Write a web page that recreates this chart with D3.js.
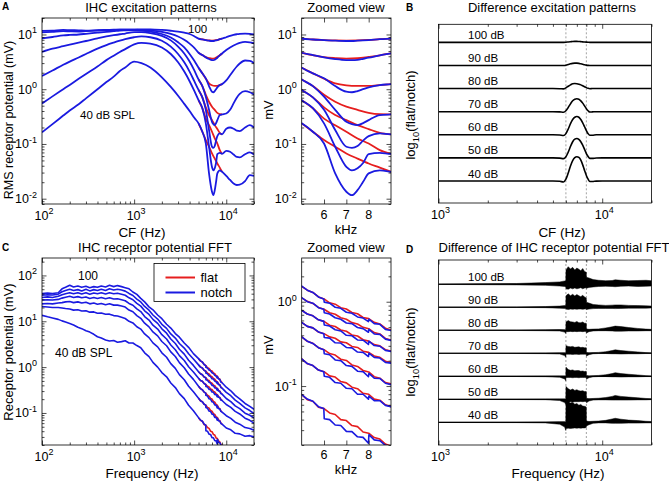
<!DOCTYPE html>
<html><head><meta charset="utf-8">
<script src="https://cdn.jsdelivr.net/npm/d3@7"></script>
<style>
body{margin:0;background:#fff}
text{font-family:"Liberation Sans",Arial,Helvetica,sans-serif;fill:#000}
</style></head>
<body><svg id="fig" width="669" height="483"></svg>
<script>
// ---------------- DATA ----------------
const levels = [40, 50, 60, 70, 80, 90, 100];

// Panel A: IHC excitation patterns (RMS receptor potential, mV) vs CF (Hz)
const cfA = [100,130,170,200,250,300,400,500,600,700,800,1000,1200,1500,2000,2500,3000,3500,4000,4500,5000,5500,6000,6500,7000,7250,7500,7750,8000,8500,9000,10000,11000,12000,13000,14000,16000,18000,20000];
const notchA100 = [11.6,11.8,12.1,12.0,11.9,11.8,12.0,12.1,12.2,12.3,12.3,12.3,12.4,12.4,12.1,11.7,11.3,10.8,10.2,9.3,8.4,8.1,7.9,7.7,7.6,7.6,7.7,7.8,7.9,8.2,8.4,8.9,9.4,9.8,10.1,10.3,10.4,10.3,10.0];
const notchA90  = [10.9,11.2,11.5,11.4,11.3,11.5,11.8,12.0,12.1,12.2,12.2,12.2,12.0,11.8,11.2,10.3,9.2,8.0,6.8,5.7,4.64,4.2,3.82,3.56,3.41,3.4,3.45,3.6,3.76,4.16,4.5,5.2,5.8,6.3,6.7,7.0,7.3,7.2,6.9];
const notchA80  = [8.5,9.0,9.6,9.8,10.0,10.3,10.8,11.2,11.5,11.8,11.9,12.0,11.8,11.3,10.2,8.8,7.2,5.8,4.4,3.3,2.47,1.95,1.58,1.14,0.90,0.88,0.925,1.0,1.08,1.19,1.24,1.45,1.8,2.2,2.6,2.95,3.35,3.3,3.0];
const notchA70  = [4.8,5.5,6.1,6.5,7.1,7.6,8.5,9.2,9.7,10.1,10.4,11.0,11.0,10.6,9.4,7.8,6.0,4.5,3.2,2.2,1.51,1.14,0.73,0.42,0.254,0.23,0.221,0.24,0.273,0.337,0.347,0.36,0.42,0.55,0.7,0.82,0.92,0.88,0.8];
const notchA60  = [1.75,2.2,2.8,3.2,3.8,4.4,5.5,6.4,7.1,7.7,8.2,8.9,9.2,8.9,7.7,6.0,4.4,3.1,2.1,1.4,0.97,0.71,0.42,0.18,0.089,0.085,0.092,0.115,0.139,0.156,0.15,0.19,0.2,0.19,0.175,0.172,0.2,0.22,0.2];
const notchA50  = [0.55,0.74,1.0,1.2,1.55,1.9,2.6,3.4,4.1,4.8,5.4,6.6,7.0,6.8,5.8,4.4,3.1,2.1,1.4,0.93,0.63,0.45,0.238,0.089,0.038,0.033,0.036,0.045,0.065,0.069,0.066,0.075,0.072,0.064,0.058,0.057,0.065,0.07,0.064];
const notchA40  = [0.163,0.23,0.33,0.41,0.53,0.68,1.0,1.35,1.7,2.15,2.5,3.2,3.0,2.5,1.65,1.1,0.76,0.54,0.4,0.3,0.238,0.167,0.102,0.029,0.0134,0.0116,0.0143,0.0203,0.029,0.033,0.031,0.026,0.022,0.019,0.0178,0.018,0.021,0.027,0.026];
const cfAflat = [5000,5500,6000,6500,7000,7500,8000,8500,9000];
const flatA100 = [8.4,8.1,7.9,7.8,7.75,7.8,7.95,8.2,8.4];
const flatA90  = [4.64,4.2,3.85,3.7,3.62,3.68,3.9,4.16,4.5];
const flatA80  = [2.47,1.95,1.55,1.28,1.18,1.15,1.15,1.19,1.24];
const flatA70  = [1.51,1.14,0.79,0.59,0.48,0.42,0.37,0.35,0.347];
const flatA60  = [0.97,0.71,0.466,0.337,0.273,0.221,0.187,0.16,0.15];
const flatA50  = [0.63,0.45,0.29,0.22,0.167,0.126,0.102,0.077,0.066];
const flatA40  = [0.238,0.167,0.118,0.089,0.067,0.054,0.044,0.037,0.031];

// Panel B: log10(flat/notch) of excitation patterns (offset one unit per level)
const cfB = [1000,2000,3000,4000,5000,5500,5800,6000,6200,6400,6600,6800,7000,7200,7400,7600,7800,8000,8200,8400,8700,9200,10000,13000,20000];
const diffB40  = [0,0,0,0,0,-0.01,-0.04,0.08,0.35,0.65,0.88,1.01,1.05,1.02,0.9,0.7,0.46,0.24,0.08,-0.02,-0.02,-0.005,0,0,0];
const diffB50  = [0,0,0,0,0,-0.01,-0.03,0.05,0.25,0.5,0.7,0.81,0.84,0.8,0.7,0.55,0.37,0.19,0.06,-0.02,-0.02,-0.005,0,0,0];
const diffB60  = [0,0,0,0,0,-0.01,-0.03,0.05,0.25,0.48,0.66,0.76,0.79,0.76,0.66,0.52,0.35,0.18,0.05,-0.02,-0.02,0,0,0,0];
const diffB70  = [0,0,0,0,0,-0.01,-0.025,0.04,0.18,0.34,0.47,0.54,0.56,0.54,0.47,0.37,0.25,0.13,0.04,-0.015,-0.01,0,0,0,0];
const diffB80  = [0,0,0,0,0,-0.005,-0.015,0.03,0.1,0.16,0.21,0.22,0.21,0.19,0.16,0.12,0.08,0.04,0.01,-0.005,0,0,0,0,0];
const diffB90  = [0,0,0,0,0,0,0,0.01,0.04,0.07,0.09,0.1,0.1,0.09,0.07,0.05,0.03,0.015,0.005,0,0,0,0,0,0];
const diffB100 = [0,0,0,0,0,0,0,0.005,0.015,0.025,0.035,0.04,0.04,0.035,0.03,0.02,0.015,0.01,0.005,0,0,0,0,0,0];

// Panel C: IHC receptor potential FFT (mV) vs frequency (Hz)
const fC = [100,115,130,150,165,180,200,220,245,270,300,330,365,400,440,490,540,600,660,730,800,880,970,1070,1180,1300,1450,1600,1800,2000,2250,2500,2800,3100,3500,3900,4400,5000,5250,5500,5750,5990,6010,6250,6500,6750,7000,7250,7500,7750,7990,8010,8250,8500,8750,9000,10000,11200,12500,14000,16000,18000,20000];
const notchC100 = [40,41.5,40.5,42,51,55,61,56,59,55,58,54,57,55,59,56,61,57,60,57,54,51,43.5,38.5,31.5,26.5,20.6,17.8,13.7,11.4,8.6,7.1,5.4,4.5,3.35,2.7,1.97,1.53,1.37,1.29,1.14,1.08,0.99,0.96,0.86,0.835,0.75,0.73,0.66,0.64,0.58,0.62,0.55,0.54,0.47,0.455,0.365,0.305,0.242,0.203,0.161,0.139,0.12];
const notchC90  = [37,38,37.5,39,44,47,50,47,49,46,50,46,49,47,50,47,51,48,50,48,45.5,40.5,36.5,30.5,26.4,21.1,17.5,13.7,11.2,8.6,7.0,5.3,4.3,3.28,2.6,1.95,1.5,1.12,1.0,0.96,0.85,0.815,0.74,0.715,0.645,0.62,0.56,0.55,0.495,0.48,0.435,0.47,0.415,0.41,0.36,0.348,0.282,0.238,0.19,0.162,0.129,0.113,0.097];
const notchC80  = [33,34,33,35,38,40,42,40,42,39.5,42,39,41.5,40,42,39.5,42,40,41,39,37,32.5,29.5,24.5,21.4,16.9,14.1,11,9.0,6.85,5.5,4.1,3.27,2.45,1.92,1.41,1.09,0.79,0.715,0.68,0.61,0.585,0.53,0.515,0.465,0.45,0.4,0.395,0.352,0.35,0.312,0.34,0.302,0.297,0.265,0.258,0.207,0.177,0.143,0.124,0.099,0.089,0.078];
const notchC70  = [29,29.5,29,30,32,33.5,35,33,34.5,32.5,34,31.5,33,31.5,33,31,32.5,30.5,31,29.5,28,24.5,22.4,18.6,16.3,12.7,10.6,8.2,6.75,5.1,4.1,3.03,2.4,1.78,1.39,1.02,0.785,0.57,0.51,0.49,0.438,0.418,0.377,0.37,0.326,0.324,0.287,0.284,0.253,0.251,0.224,0.245,0.219,0.215,0.191,0.187,0.153,0.132,0.108,0.095,0.077,0.069,0.06];
const notchC60  = [24,24.5,24,25,25.5,26.5,27,25.5,26.5,25,26,24,25,23.5,24.5,23,24,22.5,22.5,21.5,20.4,17.6,16.1,13.3,11.6,9.1,7.55,5.85,4.8,3.62,2.92,2.15,1.7,1.25,0.97,0.705,0.54,0.383,0.34,0.32,0.285,0.27,0.242,0.235,0.204,0.2,0.175,0.171,0.15,0.148,0.129,0.141,0.124,0.123,0.108,0.104,0.087,0.076,0.063,0.057,0.048,0.046,0.042];
const notchC50  = [21,20.5,20,20,19.5,19,18.5,17.5,17.8,16.8,17,15.8,16,15,15.2,14.2,14.3,13.3,13,12.2,11.5,10.0,9.2,7.6,6.75,5.3,4.4,3.38,2.76,2.05,1.64,1.19,0.94,0.685,0.53,0.382,0.29,0.21,0.185,0.175,0.155,0.148,0.131,0.127,0.11,0.108,0.094,0.093,0.08,0.08,0.07,0.076,0.067,0.067,0.059,0.057,0.047,0.043,0.036,0.035,0.031,0.032,0.03];
const notchC40  = [13.5,12.5,11.8,11,10.2,9.6,8.9,8.3,7.4,6.9,6.2,5.8,5.2,4.6,4.3,3.9,3.7,3.8,3.5,3.6,3.75,3.35,3.35,2.95,2.65,2.05,1.69,1.27,1.0,0.76,0.615,0.45,0.358,0.264,0.205,0.147,0.112,0.079,0.07,0.066,0.057,0.054,0.041,0.04,0.0345,0.034,0.029,0.0288,0.025,0.0246,0.021,0.0265,0.023,0.0225,0.0198,0.0193,0.016,0.014,0.013,0.012,0.011,0.011,0.01];
const fCflat = [5000,5250,5500,5750,6000,6250,6500,6750,7000,7250,7500,7750,8000,8250,8500,8750,9000];
const flatC100 = [1.52,1.37,1.29,1.14,1.08,0.97,0.935,0.85,0.82,0.745,0.72,0.65,0.63,0.57,0.545,0.485,0.46];
const flatC90  = [1.11,1.01,0.955,0.855,0.815,0.74,0.71,0.645,0.62,0.565,0.545,0.497,0.478,0.43,0.415,0.367,0.35];
const flatC80  = [0.79,0.715,0.68,0.61,0.585,0.527,0.508,0.462,0.447,0.404,0.392,0.354,0.341,0.31,0.3,0.27,0.26];
const flatC70  = [0.57,0.51,0.49,0.437,0.418,0.383,0.369,0.334,0.326,0.295,0.287,0.259,0.251,0.227,0.219,0.197,0.19];
const flatC60  = [0.383,0.339,0.321,0.285,0.27,0.243,0.233,0.208,0.201,0.178,0.171,0.153,0.147,0.129,0.124,0.11,0.106];
const flatC50  = [0.21,0.184,0.175,0.155,0.148,0.132,0.128,0.113,0.109,0.097,0.093,0.082,0.08,0.07,0.068,0.06,0.057];
const flatC40  = [0.079,0.069,0.066,0.056,0.054,0.048,0.046,0.04,0.039,0.034,0.033,0.0285,0.0276,0.0245,0.0235,0.0205,0.0194];

// Panel D: difference of FFTs, upper / lower envelope (offset one unit per level)
const fD = [1000,3000,4500,5500,5900,5990,6010,6200,6400,6600,6800,7000,7200,7400,7600,7800,7990,8010,8300,8800,9500,10500,11500,12000,13000,14500,16500,18500,20000];
const upD100 = [0.01,0.03,0.07,0.1,0.14,0.15,0.62,0.76,0.66,0.73,0.62,0.7,0.65,0.58,0.68,0.55,0.52,0.3,0.27,0.2,0.17,0.15,0.16,0.19,0.17,0.15,0.16,0.17,0.15];
const loD100 = [-0.01,-0.03,-0.05,-0.08,-0.1,-0.12,-0.2,-0.22,-0.17,-0.2,-0.16,-0.2,-0.18,-0.15,-0.2,-0.17,-0.15,-0.18,-0.14,-0.12,-0.1,-0.09,-0.1,-0.11,-0.09,-0.08,-0.1,-0.09,-0.08];
const upD90  = [0.005,0.015,0.03,0.05,0.07,0.08,0.5,0.58,0.5,0.56,0.49,0.55,0.5,0.46,0.52,0.44,0.4,0.22,0.18,0.12,0.1,0.08,0.09,0.1,0.1,0.08,0.07,0.06,0.05];
const loD90  = [-0.005,-0.01,-0.02,-0.04,-0.05,-0.06,-0.08,-0.1,-0.08,-0.09,-0.08,-0.09,-0.08,-0.08,-0.09,-0.08,-0.07,-0.1,-0.08,-0.06,-0.05,-0.05,-0.05,-0.06,-0.05,-0.04,-0.04,-0.04,-0.03];
const upD80  = [0.005,0.01,0.02,0.03,0.02,0.0,0.36,0.42,0.37,0.36,0.34,0.38,0.33,0.33,0.36,0.31,0.3,0.06,0.04,0.05,0.06,0.1,0.15,0.18,0.16,0.12,0.08,0.05,0.04];
const loD80  = [-0.005,-0.01,-0.02,-0.03,-0.08,-0.14,-0.06,-0.06,-0.05,-0.06,-0.05,-0.06,-0.05,-0.05,-0.06,-0.05,-0.05,-0.12,-0.06,-0.03,-0.02,-0.02,-0.03,-0.04,-0.04,-0.03,-0.03,-0.02,-0.02];
const upD70  = [0.003,0.008,0.015,0.02,0.02,0.0,0.33,0.3,0.28,0.3,0.26,0.27,0.28,0.25,0.26,0.24,0.24,0.04,0.02,0.03,0.04,0.07,0.12,0.15,0.12,0.09,0.06,0.03,0.02];
const loD70  = [-0.003,-0.008,-0.015,-0.03,-0.1,-0.17,-0.04,-0.04,-0.04,-0.05,-0.04,-0.04,-0.05,-0.04,-0.04,-0.04,-0.04,-0.12,-0.06,-0.02,-0.01,-0.01,-0.02,-0.02,-0.03,-0.02,-0.02,-0.01,-0.01];
const upD60  = [0.003,0.008,0.015,0.02,0.02,0.0,0.4,0.3,0.26,0.28,0.24,0.25,0.25,0.22,0.23,0.21,0.22,0.04,0.02,0.03,0.04,0.07,0.12,0.16,0.12,0.09,0.06,0.03,0.02];
const loD60  = [-0.003,-0.008,-0.015,-0.04,-0.11,-0.19,-0.05,-0.05,-0.05,-0.06,-0.05,-0.05,-0.06,-0.05,-0.05,-0.05,-0.05,-0.13,-0.06,-0.02,-0.01,-0.01,-0.02,-0.02,-0.03,-0.02,-0.02,-0.01,-0.01];
const upD50  = [0.003,0.008,0.015,0.02,0.02,0.0,0.56,0.46,0.41,0.45,0.39,0.42,0.38,0.36,0.38,0.34,0.34,0.05,0.03,0.04,0.05,0.08,0.13,0.17,0.13,0.1,0.07,0.04,0.03];
const loD50  = [-0.003,-0.008,-0.015,-0.05,-0.14,-0.22,-0.1,-0.12,-0.1,-0.11,-0.1,-0.1,-0.1,-0.09,-0.1,-0.09,-0.09,-0.15,-0.07,-0.03,-0.02,-0.02,-0.03,-0.03,-0.03,-0.03,-0.02,-0.02,-0.01];
const upD40  = [0.003,0.008,0.02,0.03,0.03,0.0,0.95,0.9,0.84,0.88,0.79,0.82,0.75,0.78,0.71,0.7,0.67,0.06,0.04,0.05,0.06,0.09,0.15,0.18,0.14,0.1,0.08,0.05,0.04];
const loD40  = [-0.003,-0.008,-0.02,-0.08,-0.2,-0.35,-0.26,-0.25,-0.26,-0.25,-0.24,-0.25,-0.24,-0.25,-0.24,-0.24,-0.22,-0.15,-0.1,-0.04,-0.02,-0.02,-0.04,-0.04,-0.04,-0.03,-0.03,-0.02,-0.02];

const notchFreqs = [6000, 8000];          // dashed guide lines in B and D
const zoomTicks = [6000, 7000, 8000];      // kHz ticks in zoomed views

// ---------------- HELPERS ----------------
const BLUE = "#1a1ae0", RED = "#e61e1e";
const svg = d3.select("#fig");
let clipN = 0;

const notchA = {40:notchA40,50:notchA50,60:notchA60,70:notchA70,80:notchA80,90:notchA90,100:notchA100};
const flatA  = {40:flatA40,50:flatA50,60:flatA60,70:flatA70,80:flatA80,90:flatA90,100:flatA100};
const diffB  = {40:diffB40,50:diffB50,60:diffB60,70:diffB70,80:diffB80,90:diffB90,100:diffB100};
const notchC = {40:notchC40,50:notchC50,60:notchC60,70:notchC70,80:notchC80,90:notchC90,100:notchC100};
const flatC  = {40:flatC40,50:flatC50,60:flatC60,70:flatC70,80:flatC80,90:flatC90,100:flatC100};
const upD = {40:upD40,50:upD50,60:upD60,70:upD70,80:upD80,90:upD90,100:upD100};
const loD = {40:loD40,50:loD50,60:loD60,70:loD70,80:loD80,90:loD90,100:loD100};

function logTickVals(domain){
  const [a,b]=domain, major=[], minor=[];
  for(let e=Math.floor(Math.log10(a)); e<=Math.ceil(Math.log10(b)); e++){
    for(let m=1;m<=9;m++){
      const v=m*Math.pow(10,e);
      if(v<a*0.9999||v>b*1.0001) continue;
      (m===1?major:minor).push(v);
    }
  }
  return {major,minor};
}
function clipFor(x,y){
  const id="clip"+(clipN++);
  const [x0,x1]=x.range(), [y1,y0]=y.range();
  svg.append("clipPath").attr("id",id).append("rect").attr("x",x0).attr("y",y0).attr("width",x1-x0).attr("height",y1-y0);
  return "url(#"+id+")";
}
function axisSet(x,y,xt,yt){
  const [x0,x1]=x.range(), [y1,y0]=y.range();
  const g=svg.append("g");
  const mk=(axis,tr,vals,len)=>{
    if(!vals||!vals.length) return;
    const a=g.append("g").attr("transform",tr).call(axis.tickValues(vals).tickSize(-len).tickFormat(""));
    a.select(".domain").remove();
    a.selectAll("line").attr("stroke","#000").attr("stroke-width",0.7);
  };
  if(xt){
    mk(d3.axisBottom(x),`translate(0,${y1})`,xt.major,4.5);
    mk(d3.axisBottom(x),`translate(0,${y1})`,xt.minor,2.5);
    mk(d3.axisTop(x),`translate(0,${y0})`,xt.major,4.5);
    mk(d3.axisTop(x),`translate(0,${y0})`,xt.minor,2.5);
  }
  if(yt){
    mk(d3.axisLeft(y),`translate(${x0},0)`,yt.major,4.5);
    mk(d3.axisLeft(y),`translate(${x0},0)`,yt.minor,2.5);
    mk(d3.axisRight(y),`translate(${x1},0)`,yt.major,4.5);
    mk(d3.axisRight(y),`translate(${x1},0)`,yt.minor,2.5);
  }
  g.append("rect").attr("x",x0).attr("y",y0).attr("width",x1-x0).attr("height",y1-y0)
    .attr("fill","none").attr("stroke","#000").attr("stroke-width",0.8);
}
function powLabel(x,y,v,anchor,fs){
  const e=Math.round(Math.log10(v));
  const t=svg.append("text").attr("x",x).attr("y",y).attr("text-anchor",anchor).attr("font-size",fs);
  t.append("tspan").text("10");
  t.append("tspan").attr("dy",-fs*0.45).attr("font-size",fs*0.72).text(String(e));
  return t;
}
function xPowLabels(x,y,vals,fs){ const yb=y.range()[0]; vals.forEach(v=>powLabel(x(v)+2,yb+16,v,"middle",fs)); }
function yPowLabels(x,y,vals,fs){ const xl=x.range()[0]; vals.forEach(v=>powLabel(xl-5,y(v)+4.5,v,"end",fs)); }
function txt(x,y,s,fs,anchor,extra){
  const t=svg.append("text").attr("x",x).attr("y",y).attr("font-size",fs).attr("text-anchor",anchor||"start").text(s);
  if(extra) extra(t);
  return t;
}
function vtxt(x,y,s,fs){
  return svg.append("text").attr("transform",`translate(${x},${y}) rotate(-90)`).attr("text-anchor","middle").attr("font-size",fs).text(s);
}
function vLogLabel(x,y,fs){
  const t=svg.append("text").attr("transform",`translate(${x},${y}) rotate(-90)`).attr("text-anchor","middle").attr("font-size",fs);
  t.append("tspan").text("log");
  t.append("tspan").attr("dy",fs*0.3).attr("font-size",fs*0.72).text("10");
  t.append("tspan").attr("dy",-fs*0.3).text("(flat/notch)");
}
function drawLines(x,y,xs,sets,color,curve,width){
  const clip=clipFor(x,y);
  const g=svg.append("g").attr("clip-path",clip);
  levels.forEach(L=>{
    const ys=sets[L];
    const line=d3.line().x((d,i)=>x(xs[i])).y(d=>y(d)).curve(curve);
    g.append("path").attr("d",line(ys)).attr("fill","none").attr("stroke",color).attr("stroke-width",width).attr("stroke-linejoin","round");
  });
}

// ---------------- PANEL A ----------------
const xA=d3.scaleLog().domain([100,20000]).range([42,254]);
const yA=d3.scaleLog().domain([0.008,20]).range([204,18]);
drawLines(xA,yA,cfAflat,flatA,RED,d3.curveMonotoneX,1.8);
drawLines(xA,yA,cfA,notchA,BLUE,d3.curveMonotoneX,1.8);
axisSet(xA,yA,logTickVals(xA.domain()),logTickVals(yA.domain()));
xPowLabels(xA,yA,[100,1000,10000],12.5);
yPowLabels(xA,yA,[0.01,0.1,1,10],12.5);
txt(188,33,"100",11.5);
txt(80,119,"40 dB SPL",11.5);
txt(151,12,"IHC excitation patterns",13,"middle");
txt(142,237,"CF (Hz)",13.5,"middle");
vtxt(13,120,"RMS receptor potential (mV)",12.5);
txt(2,10,"A",10,"start",t=>t.attr("font-weight","bold"));

// ---------------- ZOOMED A ----------------
const xAZ=d3.scaleLinear().domain([5000,9000]).range([301.7,391]);
const yAZ=d3.scaleLog().domain([0.008,20]).range([204,18]);
drawLines(xAZ,yAZ,cfAflat,flatA,RED,d3.curveMonotoneX,1.8);
drawLines(xAZ,yAZ,cfA,notchA,BLUE,d3.curveMonotoneX,1.8);
axisSet(xAZ,yAZ,{major:zoomTicks,minor:[]},logTickVals(yAZ.domain()));
zoomTicks.forEach(v=>txt(xAZ(v),219,String(v/1000),12.5,"middle"));
yPowLabels(xAZ,yAZ,[0.01,0.1,1,10],12.5);
txt(346,12,"Zoomed view",13,"middle");
txt(346,234,"kHz",13,"middle");
vtxt(273,110,"mV",13);

// ---------------- PANEL B ----------------
const xB=d3.scaleLog().domain([1000,20000]).range([438.5,651.5]);
const yB=d3.scaleLinear().domain([-0.95,6.78]).range([203,24.3]);
notchFreqs.forEach(f=>svg.append("line").attr("x1",xB(f)).attr("x2",xB(f)).attr("y1",yB.range()[1]).attr("y2",yB.range()[0])
  .attr("stroke","#8a8a8a").attr("stroke-width",0.8).attr("stroke-dasharray","2,2"));
{
  const clip=clipFor(xB,yB); const g=svg.append("g").attr("clip-path",clip);
  levels.forEach((L,k)=>{
    const line=d3.line().x((d,i)=>xB(cfB[i])).y(d=>yB(d+k)).curve(d3.curveMonotoneX);
    g.append("path").attr("d",line(diffB[L])).attr("fill","none").attr("stroke","#000").attr("stroke-width",1.6);
    txt(468,yB(k)-3.5,L+" dB",11.5);
  });
}
axisSet(xB,yB,logTickVals(xB.domain()),null);
xPowLabels(xB,yB,[1000,10000],12.5);
txt(552,12,"Difference excitation patterns",13,"middle");
txt(562,237,"CF (Hz)",13.5,"middle");
vLogLabel(415,115,13);
txt(406,11,"B",10,"start",t=>t.attr("font-weight","bold"));

// ---------------- PANEL C ----------------
const xC=d3.scaleLog().domain([100,20000]).range([42,254]);
const yC=d3.scaleLog().domain([0.02,240]).range([445,258]);
drawLines(xC,yC,fCflat,flatC,RED,d3.curveLinear,1.6);
drawLines(xC,yC,fC,notchC,BLUE,d3.curveLinear,1.6);
axisSet(xC,yC,logTickVals(xC.domain()),logTickVals(yC.domain()));
xPowLabels(xC,yC,[100,1000,10000],12.5);
yPowLabels(xC,yC,[0.1,1,10,100],12.5);
txt(78,280,"100",12);
txt(55,357,"40 dB SPL",12);
// legend
svg.append("rect").attr("x",154).attr("y",263.5).attr("width",91).attr("height",38).attr("fill","#fff").attr("stroke","#000").attr("stroke-width",0.8);
[["flat",RED,277.5],["notch",BLUE,292.5]].forEach(([s,c,yy])=>{
  svg.append("line").attr("x1",165.5).attr("x2",195).attr("y1",yy).attr("y2",yy).attr("stroke",c).attr("stroke-width",2);
  txt(200.5,yy+4.5,s,13);
});
txt(155,252,"IHC receptor potential FFT",13,"middle");
txt(152,478,"Frequency (Hz)",13.5,"middle");
vtxt(13,352,"Receptor potential (mV)",13);
txt(2,251,"C",10,"start",t=>t.attr("font-weight","bold"));

// ---------------- ZOOMED C ----------------
const xCZ=d3.scaleLinear().domain([5000,9000]).range([301.7,391]);
const yCZ=d3.scaleLog().domain([0.02,3.3]).range([445,258]);
drawLines(xCZ,yCZ,fCflat,flatC,RED,d3.curveLinear,1.6);
drawLines(xCZ,yCZ,fC,notchC,BLUE,d3.curveLinear,1.6);
axisSet(xCZ,yCZ,{major:zoomTicks,minor:[]},logTickVals(yCZ.domain()));
zoomTicks.forEach(v=>txt(xCZ(v),459,String(v/1000),12.5,"middle"));
yPowLabels(xCZ,yCZ,[0.1,1],12.5);
txt(346,252,"Zoomed view",13,"middle");
txt(346,474,"kHz",13,"middle");
vtxt(273,345,"mV",13);

// ---------------- PANEL D ----------------
const xD=d3.scaleLog().domain([1000,20000]).range([438.5,651.5]);
const yD=d3.scaleLinear().domain([-0.98,7.05]).range([445,260]);
notchFreqs.forEach(f=>svg.append("line").attr("x1",xD(f)).attr("x2",xD(f)).attr("y1",yD.range()[1]).attr("y2",yD.range()[0])
  .attr("stroke","#8a8a8a").attr("stroke-width",0.8).attr("stroke-dasharray","2,2"));
{
  const clip=clipFor(xD,yD); const g=svg.append("g").attr("clip-path",clip);
  levels.forEach((L,k)=>{
    const area=d3.area().x((d,i)=>xD(fD[i])).y0((d,i)=>yD(loD[L][i]+k)).y1(d=>yD(d+k));
    g.append("path").attr("d",area(upD[L])).attr("fill","#000").attr("stroke","#000").attr("stroke-width",0.5);
    g.append("line").attr("x1",xD(1000)).attr("x2",xD(20000)).attr("y1",yD(k)).attr("y2",yD(k)).attr("stroke","#000").attr("stroke-width",1.1);
    txt(468,yD(k)-3.5,L+" dB",11.5);
  });
}
axisSet(xD,yD,logTickVals(xD.domain()),null);
xPowLabels(xD,yD,[1000,10000],12.5);
txt(554,252,"Difference of IHC receptor potential FFT",13,"middle");
txt(558,478,"Frequency (Hz)",13.5,"middle");
vLogLabel(415,352,13);
txt(406,253,"D",10,"start",t=>t.attr("font-weight","bold"));
</script></body></html>
